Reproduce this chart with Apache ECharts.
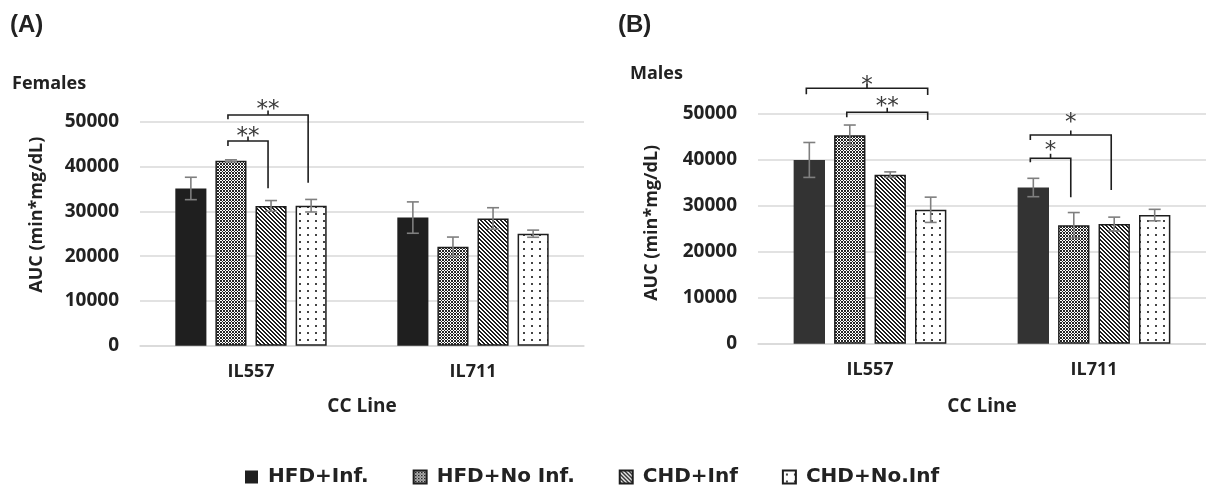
<!DOCTYPE html>
<html><head><meta charset="utf-8">
<script src="https://cdn.jsdelivr.net/npm/echarts@6/dist/echarts.min.js"></script>
<style>html,body{margin:0;padding:0;background:#fff}#c{width:1206px;height:488px}</style>
</head><body><div id="c"></div>
<script>
// ---- data ----
const categories = ['IL557', 'IL711'];
const seriesNames = ['HFD+Inf.', 'HFD+No Inf.', 'CHD+Inf', 'CHD+No.Inf'];
const yTicks = [0, 10000, 20000, 30000, 40000, 50000];
// Females (A)
const femHFDInf = [35100, 28600];
const femHFDNoInf = [41300, 22100];
const femCHDInf = [31200, 28400];
const femCHDNoInf = [31250, 25000];
const femErrHFDInf = [2500, 3500];
const femErrHFDNoInf = [200, 2150];
const femErrCHDInf = [1200, 2400];
const femErrCHDNoInf = [1400, 800];
// Males (B)
const maleHFDInf = [40000, 34000];
const maleHFDNoInf = [45400, 25800];
const maleCHDInf = [36800, 26050];
const maleCHDNoInf = [29150, 28000];
const maleErrHFDInf = [3800, 2000];
const maleErrHFDNoInf = [2200, 2750];
const maleErrCHDInf = [600, 1500];
const maleErrCHDNoInf = [2750, 1250];
// significance brackets: [category, fromBar, toBar, lineValue, leftEndValue, rightEndValue, starValue, label]
const femBrackets = [
  [0, 1, 2, 45690, 44570, 35130, 47770, '**'],
  [0, 1, 3, 51500, 50540, 36380, 53730, '**']
];
const maleBrackets = [
  [0, 0, 3, 55600, 54290, 54130, 57250, '*'],
  [0, 1, 3, 50370, 49280, 48690, 52680, '**'],
  [1, 0, 2, 45430, 44340, 33460, 49060, '*'],
  [1, 0, 1, 40360, 39490, 31870, 43100, '*']
];

// ---- styles ----
const BAR_W = 0.14, BAR_GAP = 0.29;
const SPACING = BAR_W * (1 + BAR_GAP);
function makePattern(w, h, draw) {
  const c = document.createElement('canvas'); c.width = w; c.height = h;
  const g = c.getContext('2d'); draw(g, w, h); return c;
}
const patCheck = makePattern(6, 6, (g) => {
  g.fillStyle = '#ffffff'; g.fillRect(0, 0, 6, 6);
  g.fillStyle = '#262626';
  for (let x = 0; x < 6; x++) for (let y = 0; y < 6; y++) {
    const a = ((x + y) % 3 + 3) % 3, b = ((x - y) % 3 + 3) % 3;
    if (a === 0 || b === 0) g.fillRect(x, y, 1, 1);
  }
});
const patStripe = makePattern(4, 4, (g) => {
  g.fillStyle = '#ffffff'; g.fillRect(0, 0, 4, 4);
  g.fillStyle = '#1e1e1e';
  for (let x = 0; x < 4; x++) for (let y = 0; y < 4; y++) { const d = ((x - y) % 4 + 4) % 4; if (d < 2) g.fillRect(x, y, 1, 1); }
});
const patDots = makePattern(8, 7, (g) => {
  g.fillStyle = '#ffffff'; g.fillRect(0, 0, 8, 7);
  g.fillStyle = '#444'; g.fillRect(3, 3, 2, 2);
});
const fills = [null, { image: patCheck, repeat: 'repeat' }, { image: patStripe, repeat: 'repeat' }, { image: patDots, repeat: 'repeat' }];
const FONT = 'Open Sans';

const femVals = [femHFDInf, femHFDNoInf, femCHDInf, femCHDNoInf];
const femErrs = [femErrHFDInf, femErrHFDNoInf, femErrCHDInf, femErrCHDNoInf];
const maleVals = [maleHFDInf, maleHFDNoInf, maleCHDInf, maleCHDNoInf];
const maleErrs = [maleErrHFDInf, maleErrHFDNoInf, maleErrCHDInf, maleErrCHDNoInf];

function errRender(params, api) {
  const c = api.value(0), i = api.value(1), m = api.value(2), e = api.value(3);
  const band = api.size([1, 0])[0];
  const x = api.coord([c, 0])[0] + (i - 1.5) * band * SPACING;
  const yt = api.coord([c, m + e])[1], yb = api.coord([c, m - e])[1];
  const cap = 6, st = { stroke: '#7f7f7f', lineWidth: 1.6 };
  return { type: 'group', children: [
    { type: 'line', shape: { x1: x, y1: yt, x2: x, y2: yb }, style: st },
    { type: 'line', shape: { x1: x - cap, y1: yt, x2: x + cap, y2: yt }, style: st },
    { type: 'line', shape: { x1: x - cap, y1: yb, x2: x + cap, y2: yb }, style: st }
  ] };
}
function bracketRender(list) {
  return function (params, api) {
    const b = list[params.dataIndex];
    const band = api.size([1, 0])[0];
    const cx = api.coord([b[0], 0])[0];
    const x1 = cx + (b[1] - 1.5) * band * SPACING - 3;
    const x2 = cx + (b[2] - 1.5) * band * SPACING - 3;
    const yl = api.coord([b[0], b[3]])[1], yle = api.coord([b[0], b[4]])[1], yre = api.coord([b[0], b[5]])[1];
    const ys = api.coord([b[0], b[6]])[1];
    const mx = (x1 + x2) / 2;
    const st = { stroke: '#1e1e1e', lineWidth: 1.6, fill: null };
    return { type: 'group', children: [
      { type: 'polyline', shape: { points: [[x1, yle], [x1, yl], [x2, yl], [x2, yre]] }, style: st },
      { type: 'line', shape: { x1: mx, y1: yl, x2: mx, y2: yl - 4.5 }, style: st },
      { type: 'text', style: { text: b[7], x: mx, y: ys + 5, align: 'center', verticalAlign: 'middle', fontSize: 23, fontFamily: 'DejaVu Sans', fill: '#3a3a3a' } }
    ] };
  };
}

function buildSeries(gi, vals, errs, brackets, darkColor) {
  const out = [];
  vals.forEach((v, i) => {
    out.push({
      name: seriesNames[i], type: 'bar', xAxisIndex: gi, yAxisIndex: gi,
      barWidth: (BAR_W * 100) + '%', barGap: (BAR_GAP * 100) + '%',
      data: v,
      itemStyle: i === 0 ? { color: darkColor } : { color: fills[i], borderColor: '#1e1e1e', borderWidth: 1.5 },
      emphasis: { disabled: true }
    });
  });
  const ed = [];
  vals.forEach((v, i) => v.forEach((m, c) => ed.push([c, i, m, errs[i][c]])));
  out.push({ type: 'custom', xAxisIndex: gi, yAxisIndex: gi, data: ed, encode: { x: 0, y: 2 }, renderItem: errRender, clip: false, silent: true, z: 5 });
  out.push({ type: 'custom', xAxisIndex: gi, yAxisIndex: gi, data: brackets.map(b => b.slice(0, 7)), encode: { x: 0, y: 3 }, renderItem: bracketRender(brackets), clip: false, silent: true, z: 5 });
  return out;
}

function xAxis(gi, gap) {
  return {
    type: 'category', gridIndex: gi, data: categories,
    axisLine: { lineStyle: { color: '#d9d9d9', width: 1.5 } }, axisTick: { show: false },
    axisLabel: { fontSize: 18, fontWeight: 'bold', fontFamily: FONT, color: '#222', margin: 17 },
    name: 'CC Line', nameLocation: 'middle', nameGap: gap,
    nameTextStyle: { fontSize: 19, fontWeight: 'bold', fontFamily: FONT, color: '#222' }
  };
}
function yAxis(gi, gap, pad) {
  return {
    type: 'value', gridIndex: gi, min: yTicks[0], max: yTicks[yTicks.length - 1], interval: yTicks[1] - yTicks[0],
    axisLine: { show: false }, axisTick: { show: false },
    splitLine: { lineStyle: { color: '#d9d9d9', width: 1.5 } },
    axisLabel: { fontSize: 19, fontWeight: 'bold', fontFamily: FONT, color: '#222', margin: 21, formatter: (v) => String(v) },
    name: 'AUC (min*mg/dL)', nameLocation: 'middle', nameGap: gap,
    nameTextStyle: { fontSize: 18, fontWeight: 'bold', fontFamily: FONT, color: '#222', padding: [0, 0, 0, pad] }
  };
}

const chart = echarts.init(document.getElementById('c'), null, { renderer: 'canvas' });
chart.setOption({
  animation: false,
  backgroundColor: '#fff',
  grid: [
    { left: 140, right: 622, top: 121.7, bottom: 142.3, outerBoundsMode: 'none' },
    { left: 758, right: 0, top: 114, bottom: 144.3, outerBoundsMode: 'none' }
  ],
  xAxis: [xAxis(0, 51), xAxis(1, 53)],
  yAxis: [yAxis(0, 94, 38), yAxis(1, 97, 12)],
  legend: {
    data: seriesNames, left: 240, top: 462, itemWidth: 13, itemHeight: 13, itemGap: 44, icon: 'rect',
    selectedMode: false,
    textStyle: { fontSize: 20, fontWeight: 'bold', fontFamily: 'DejaVu Sans', color: '#222', padding: [0, 0, 0, 5] }
  },
  graphic: [
    { type: 'text', style: { text: '(A)', x: 10, y: 25, verticalAlign: 'middle', fontSize: 24, fontWeight: 'bold', fontFamily: 'Liberation Sans', fill: '#222' } },
    { type: 'text', style: { text: '(B)', x: 618, y: 25, verticalAlign: 'middle', fontSize: 24, fontWeight: 'bold', fontFamily: 'Liberation Sans', fill: '#222' } },
    { type: 'text', style: { text: 'Females', x: 12, y: 84, verticalAlign: 'middle', fontSize: 18, fontWeight: 'bold', fontFamily: FONT, fill: '#222' } },
    { type: 'text', style: { text: 'Males', x: 630, y: 74, verticalAlign: 'middle', fontSize: 18, fontWeight: 'bold', fontFamily: FONT, fill: '#222' } }
  ],
  series: [].concat(
    buildSeries(0, femVals, femErrs, femBrackets, '#1f1f1f'),
    buildSeries(1, maleVals, maleErrs, maleBrackets, '#333333')
  )
});
</script>
</body></html>
